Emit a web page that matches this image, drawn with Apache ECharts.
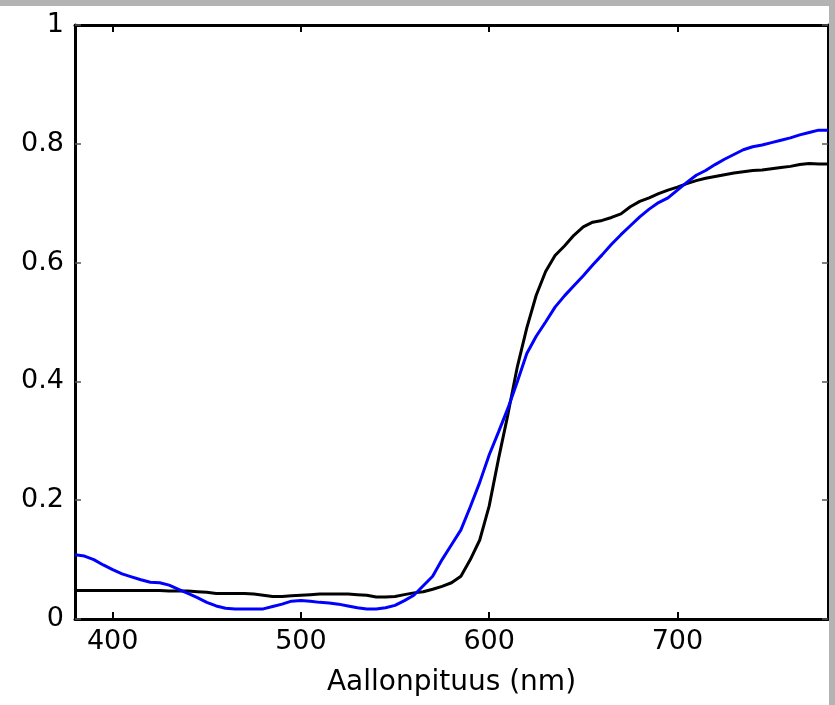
<!DOCTYPE html>
<html>
<head>
<meta charset="utf-8">
<script src="https://cdn.jsdelivr.net/npm/echarts@6/dist/echarts.min.js"></script>
<style>
html,body{margin:0;padding:0;background:#fff;}
#chart{width:835px;height:705px;}
</style>
</head>
<body>
<div id="chart"></div>
<script>
const wavelengths = [380,385,390,395,400,405,410,415,420,425,430,435,440,445,450,455,460,465,470,475,480,485,490,495,500,505,510,515,520,525,530,535,540,545,550,555,560,565,570,575,580,585,590,595,600,605,610,615,620,625,630,635,640,645,650,655,660,665,670,675,680,685,690,695,700,705,710,715,720,725,730,735,740,745,750,755,760,765,770,775,780];

const blackValues = [0.048,0.048,0.048,0.048,0.048,0.048,0.048,0.048,0.048,0.048,0.047,0.047,0.047,0.046,0.045,0.043,0.043,0.043,0.043,0.042,0.040,0.038,0.038,0.039,0.040,0.041,0.042,0.042,0.042,0.042,0.041,0.040,0.037,0.037,0.038,0.041,0.044,0.046,0.050,0.055,0.061,0.072,0.100,0.133,0.190,0.270,0.345,0.425,0.490,0.545,0.585,0.612,0.628,0.646,0.660,0.668,0.671,0.676,0.682,0.694,0.703,0.709,0.716,0.722,0.727,0.733,0.738,0.742,0.745,0.748,0.751,0.753,0.755,0.756,0.758,0.760,0.762,0.765,0.767,0.766,0.766];

const blueValues = [0.108,0.106,0.100,0.091,0.083,0.076,0.071,0.066,0.062,0.061,0.057,0.050,0.043,0.036,0.028,0.022,0.018,0.017,0.017,0.017,0.017,0.021,0.025,0.030,0.031,0.030,0.028,0.027,0.025,0.022,0.019,0.017,0.017,0.019,0.023,0.031,0.040,0.056,0.072,0.100,0.125,0.150,0.189,0.230,0.276,0.315,0.355,0.400,0.447,0.476,0.500,0.525,0.544,0.561,0.578,0.596,0.613,0.631,0.647,0.662,0.677,0.690,0.701,0.709,0.722,0.735,0.747,0.755,0.765,0.774,0.782,0.790,0.795,0.798,0.802,0.806,0.810,0.815,0.819,0.823,0.823];

const xTicks = [400, 500, 600, 700];
const yTicks = [0, 0.2, 0.4, 0.6, 0.8, 1];
const xAxisName = 'Aallonpituus (nm)';

const pairs = (xs, ys) => xs.map((x, i) => [x, ys[i]]);

const chart = echarts.init(document.getElementById('chart'), null, {renderer: 'canvas'});
const font = 'DejaVu Sans';
const axisLine = {show: true, onZero: false, lineStyle: {color: '#000', width: 3}};

chart.setOption({
  animation: false,
  backgroundColor: '#fff',
  grid: {left: 75, top: 25, right: 7, bottom: 86},
  graphic: [
    {type: 'rect', shape: {x: 0, y: 0, width: 835, height: 6}, style: {fill: '#b3b3b3'}, z: 100},
    {type: 'rect', shape: {x: 829, y: 0, width: 6, height: 705}, style: {fill: '#b3b3b3'}, z: 100}
  ],
  xAxis: [
    {
      type: 'value', position: 'bottom', min: 380, max: 780,
      name: xAxisName, nameLocation: 'middle', nameGap: 50,
      nameTextStyle: {fontFamily: font, fontSize: 28, color: '#000'},
      axisLine: axisLine,
      axisTick: {show: true, inside: true, length: 7, customValues: xTicks, lineStyle: {color: '#000', width: 2}},
      axisLabel: {show: true, customValues: xTicks, margin: 9, fontFamily: font, fontSize: 27, color: '#000'},
      splitLine: {show: false}
    },
    {
      type: 'value', position: 'top', min: 380, max: 780,
      axisLine: axisLine,
      axisTick: {show: true, inside: true, length: 7, customValues: xTicks, lineStyle: {color: '#000', width: 2}},
      axisLabel: {show: false},
      splitLine: {show: false}
    }
  ],
  yAxis: [
    {
      type: 'value', position: 'left', min: 0, max: 1, interval: 0.2,
      axisLine: axisLine,
      axisTick: {show: true, inside: true, length: 6, lineStyle: {color: '#555', width: 1.5}},
      axisLabel: {show: true, margin: 11, fontFamily: font, fontSize: 27, color: '#000',
        formatter: v => yTicks.includes(+v.toFixed(1)) ? String(+v.toFixed(1)) : ''},
      splitLine: {show: false}
    },
    {
      type: 'value', position: 'right', min: 0, max: 1, interval: 0.2,
      axisLine: axisLine,
      axisTick: {show: true, inside: true, length: 6, lineStyle: {color: '#555', width: 1.5}},
      axisLabel: {show: false},
      splitLine: {show: false}
    }
  ],
  series: [
    {
      type: 'line', xAxisIndex: 0, yAxisIndex: 0, data: pairs(wavelengths, blackValues),
      showSymbol: false, symbol: 'none', lineStyle: {color: '#000', width: 3}, z: 3
    },
    {
      type: 'line', xAxisIndex: 0, yAxisIndex: 0, data: pairs(wavelengths, blueValues),
      showSymbol: false, symbol: 'none', lineStyle: {color: '#0000ff', width: 3}, z: 4
    }
  ]
});
</script>
</body>
</html>
